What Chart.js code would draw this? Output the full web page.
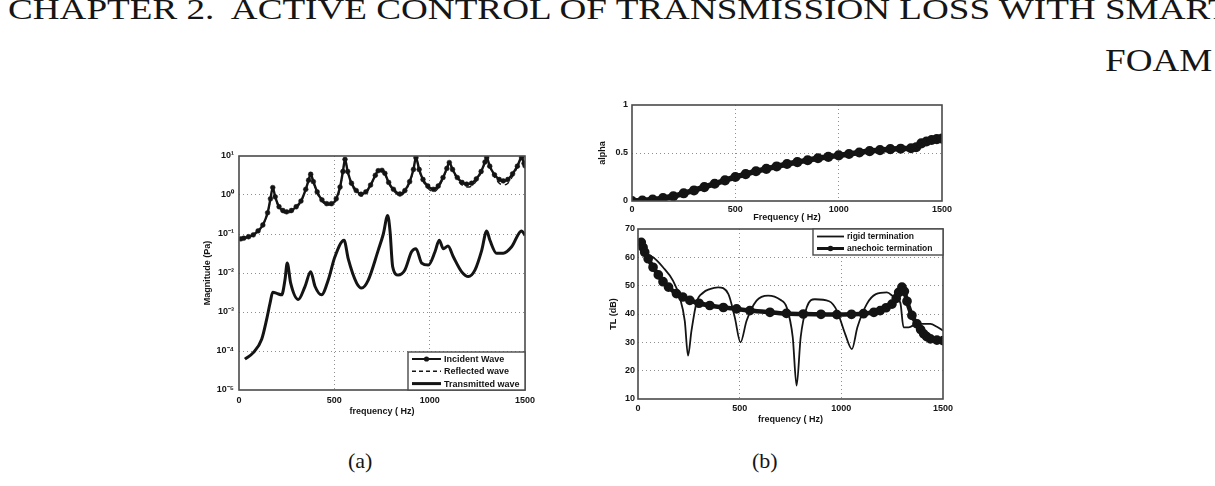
<!DOCTYPE html>
<html><head><meta charset="utf-8">
<script src="https://cdn.jsdelivr.net/npm/chart.js@4.4.1/dist/chart.umd.min.js"></script>
<style>
html,body{margin:0;padding:0;background:#fff;width:1215px;height:486px;overflow:hidden;position:relative;}
canvas{position:absolute;}
.t{position:absolute;font-family:'Liberation Serif','DejaVu Serif',serif;color:#151515;white-space:pre;line-height:1;transform-origin:0 0;}
</style></head><body>
<div id="h1" class="t" style="left:8px;top:-5px;font-size:28px;">CHAPTER 2.  ACTIVE CONTROL OF TRANSMISSION LOSS WITH SMART</div>
<div id="h2" class="t" style="left:1117px;top:46px;font-size:28px;">FOAM</div>
<div class="t" style="left:348px;top:450px;font-size:22px;">(a)</div>
<div class="t" style="left:752px;top:450px;font-size:22px;">(b)</div>
<canvas id="cA" width="360" height="290" style="left:190px;top:140px;"></canvas>
<canvas id="cB1" width="380" height="135" style="left:580px;top:90px;"></canvas>
<canvas id="cB2" width="380" height="220" style="left:580px;top:215px;"></canvas>
<script>
// ---------- data ----------
const freqTicks = [0, 500, 1000, 1500];
const magTickValues = [1e-5, 1e-4, 1e-3, 1e-2, 1e-1, 1, 10];
const magTickLabels = ['10\u207B\u2075', '10\u207B\u2074', '10\u207B\u00B3', '10\u207B\u00B2', '10\u207B\u00B9', '10\u2070', '10\u00B9'];
const alphaTicks = [0, 0.5, 1];
const tlTicks = [10, 20, 30, 40, 50, 60, 70];

const freqIncident = [10,25,50,75,100,125,150,165,177,190,210,230,250,275,300,325,350,365,376,390,410,435,460,485,510,530,545,556,570,590,615,640,665,690,715,730,750,765,785,810,844,870,895,915,928,945,965,990,1019,1045,1070,1090,1103,1120,1145,1170,1194,1220,1245,1270,1290,1299,1315,1340,1365,1386,1410,1435,1460,1482,1495,1500];
const incidentWave = [0.075,0.078,0.085,0.095,0.12,0.17,0.35,0.8,1.55,0.9,0.5,0.4,0.37,0.4,0.5,0.7,1.4,2.4,3.4,2.2,1.2,0.75,0.6,0.6,0.8,1.6,4.0,8.2,4.0,2.0,1.3,1.05,1.2,1.8,3.2,4.2,4.3,3.6,2.1,1.4,1.06,1.3,2.2,4.5,9.0,4.5,2.5,1.7,1.4,1.7,2.8,4.8,6.8,4.5,2.8,2.1,1.9,2.0,2.6,4.0,7.0,9.0,5.5,3.3,2.5,2.3,2.5,3.5,5.5,9.0,6.5,5.6];
const reflectedWave = [0.072,0.075,0.082,0.092,0.115,0.165,0.34,0.78,1.5,0.85,0.47,0.37,0.34,0.37,0.47,0.66,1.35,2.3,3.3,2.1,1.1,0.7,0.55,0.55,0.75,1.5,3.9,8.0,3.8,1.85,1.2,0.95,1.1,1.7,3.1,4.1,4.2,3.5,2.0,1.3,0.95,1.2,2.1,4.4,8.8,4.3,2.3,1.5,1.2,1.5,2.6,4.6,6.6,4.3,2.5,1.8,1.6,1.7,2.3,3.8,6.8,8.8,5.2,2.9,2.0,1.8,2.0,3.0,5.2,8.8,6.3,5.4];
const freqTransmitted = [31,75,119,145,163,177,198,224,241,253,271,311,346,376,399,433,468,503,551,573,617,643,678,730,757,780,792,806,835,870,905,928,958,993,1028,1050,1072,1096,1124,1168,1203,1238,1273,1299,1316,1351,1386,1430,1482,1500];
const transmittedWave = [6.2e-5,9.1e-5,2.0e-4,6.5e-4,1.7e-3,3.2e-3,3.0e-3,2.75e-3,6.6e-3,1.8e-2,5.5e-3,2.1e-3,4.5e-3,1.07e-2,4.5e-3,2.75e-3,6.6e-3,2.6e-2,6.9e-2,2.3e-2,5.5e-3,4.1e-3,6.6e-3,3.8e-2,0.10,0.30,0.12,1.45e-2,8.9e-3,1.2e-2,3.5e-2,4.2e-2,1.8e-2,1.6e-2,3.5e-2,6.9e-2,4.2e-2,4.9e-2,2.6e-2,1.07e-2,8.1e-3,1.2e-2,3.8e-2,0.12,6.9e-2,3.2e-2,3.2e-2,4.7e-2,0.12,9.3e-2];

const freqAlpha = [0,50,100,150,200,250,300,350,400,450,500,550,600,650,700,750,800,850,900,950,1000,1050,1100,1150,1200,1250,1300,1350,1375,1400,1425,1450,1475,1500];
const alphaValues = [0.0,0.005,0.015,0.03,0.05,0.08,0.11,0.145,0.18,0.215,0.25,0.28,0.31,0.335,0.36,0.385,0.405,0.425,0.445,0.46,0.475,0.49,0.505,0.52,0.53,0.54,0.545,0.55,0.56,0.6,0.62,0.635,0.645,0.65];

const freqRigid = [25,74,123,172,205,230,246,263,288,320,353,394,444,476,504,534,583,640,700,731,761,780,800,830,870,940,978,1019,1052,1079,1125,1170,1224,1260,1290,1306,1331,1372,1438,1470,1500];
const rigidTL = [61.5,60.0,56.5,51.8,46.0,37.6,25.3,34.1,44.1,47.5,48.8,49.4,47.1,38.8,30.0,37.6,44.7,46.5,45.0,42.4,31.8,14.7,31.8,42.4,45.2,44.5,41.2,32.9,27.6,35.3,43.5,47.0,47.6,46.0,44.0,35.3,35.3,36.5,36.5,35.5,34.1];
const freqAnechoic = [16,25,33,50,74,100,123,150,189,220,255,300,353,420,485,550,649,730,813,900,978,1050,1109,1160,1191,1220,1249,1270,1282,1298,1310,1323,1347,1372,1390,1405,1420,1438,1470,1500];
const anechoicTL = [65.3,63.5,61.8,59.5,56.5,53.8,51.4,49.5,47.2,46.0,44.8,43.8,43.0,42.3,41.8,41.2,40.6,40.2,40.0,39.9,39.8,39.9,40.1,40.6,41.2,42.2,43.5,45.5,47.6,49.5,48.0,44.5,39.5,36.5,34.5,33.0,32.0,31.2,30.8,30.6];

// ---------- header scaling ----------
(function(){
  const c = document.createElement('canvas').getContext('2d');
  c.font = "28px 'Liberation Serif'";
  const w = c.measureText('CHAPTER 2.  ACTIVE CONTROL OF TRANSMISSION LOSS WITH SMAR').width;
  const sx = 1207 / w;
  document.getElementById('h1').style.transform = 'scale(' + sx + ',1.05)';
  const wf = c.measureText('FOAM').width * sx;
  const h2 = document.getElementById('h2');
  h2.style.transform = 'scale(' + sx + ',1.1)';
  h2.style.left = (1212 - wf) + 'px';
})();

// ---------- helpers ----------
const ink = '#141414';
const gridColor = '#8f8f8f';
const sans = "'Liberation Sans', Arial, sans-serif";
const tickFont = {family: sans, size: 9, weight: 'bold'};
const titleFont = {family: sans, size: 9, weight: 'bold'};
const pts = (xs, ys) => xs.map((x, i) => ({x: x, y: ys[i]}));
const plain = v => String(v);
const innerGrid = ctx => {
  const n = ctx.scale.ticks.length;
  return (ctx.index === 0 || ctx.index === n - 1) ? 'rgba(0,0,0,0)' : gridColor;
};

const framePlugin = {
  id: 'frame',
  afterDatasetsDraw(chart) {
    const {ctx, chartArea: a} = chart;
    ctx.save();
    ctx.strokeStyle = '#4a4a4a';
    ctx.lineWidth = 1.6;
    ctx.strokeRect(a.left, a.top, a.right - a.left, a.bottom - a.top);
    ctx.restore();
  }
};

const boxLegendPlugin = {
  id: 'boxLegend',
  afterDraw(chart, args, o) {
    if (!o || !o.items) return;
    const {ctx, chartArea: a} = chart;
    const x = a.right - o.w;
    const y = o.anchor === 'bottom' ? a.bottom - o.h : a.top;
    ctx.save();
    ctx.fillStyle = '#fff';
    ctx.fillRect(x, y, o.w, o.h);
    ctx.strokeStyle = '#4a4a4a';
    ctx.lineWidth = 1.4;
    ctx.strokeRect(x, y, o.w, o.h);
    ctx.font = 'bold ' + o.fontSize + 'px ' + sans;
    ctx.textBaseline = 'middle';
    ctx.fillStyle = ink;
    o.items.forEach((it, i) => {
      const cy = y + o.first + i * o.row;
      ctx.strokeStyle = ink;
      ctx.lineWidth = it.width;
      ctx.setLineDash(it.dash || []);
      ctx.beginPath();
      ctx.moveTo(x + 4, cy);
      ctx.lineTo(x + o.sample, cy);
      ctx.stroke();
      ctx.setLineDash([]);
      if (it.marker) {
        ctx.beginPath();
        ctx.arc(x + 4 + (o.sample - 4) / 2, cy, it.marker, 0, Math.PI * 2);
        ctx.fill();
      }
      ctx.fillText(it.text, x + o.sample + 3, cy + 0.5);
    });
    ctx.restore();
  }
};

function xScale(title, tickPad, titlePad, height) {
  return {
    type: 'linear', min: 0, max: 1500,
    afterBuildTicks: s => { s.ticks = freqTicks.map(v => ({value: v})); },
    ticks: {font: tickFont, color: ink, padding: tickPad, maxRotation: 0, autoSkip: false, callback: plain},
    grid: {color: innerGrid, drawTicks: false, lineWidth: 1},
    border: {display: false, dash: [1, 3]},
    title: {display: true, text: title, font: titleFont, color: ink, padding: {top: 0, bottom: titlePad}},
    afterFit: s => { s.height = height; }
  };
}

// ---------- chart (a) ----------
new Chart(document.getElementById('cA'), {
  type: 'line',
  data: {datasets: [
    {label: 'Incident Wave', data: pts(freqIncident, incidentWave), borderColor: ink, borderWidth: 2.4,
     pointRadius: 2.4, pointBackgroundColor: ink, pointBorderColor: ink, pointBorderWidth: 0.5, cubicInterpolationMode: 'monotone'},
    {label: 'Reflected wave', data: pts(freqIncident, reflectedWave), borderColor: ink, borderWidth: 1.4,
     borderDash: [5, 4], pointRadius: 0, cubicInterpolationMode: 'monotone'},
    {label: 'Transmitted wave', data: pts(freqTransmitted, transmittedWave), borderColor: ink, borderWidth: 3,
     pointRadius: 0, cubicInterpolationMode: 'monotone'}
  ]},
  options: {
    responsive: false, animation: false, devicePixelRatio: 1,
    layout: {padding: {left: 0, top: 16, right: 25, bottom: 0}},
    plugins: {legend: {display: false}, tooltip: {enabled: false},
      boxLegend: {anchor: 'bottom', w: 117, h: 38, first: 7, row: 12.3, sample: 33, fontSize: 9, items: [
        {text: 'Incident Wave', width: 2, marker: 2.6},
        {text: 'Reflected wave', width: 1.4, dash: [4, 3]},
        {text: 'Transmitted wave', width: 3}
      ]}},
    scales: {
      x: xScale('frequency ( Hz)', 5, 13, 40),
      y: {
        type: 'logarithmic', min: 1e-5, max: 10,
        afterBuildTicks: s => { s.ticks = magTickValues.map(v => ({value: v})); },
        ticks: {font: tickFont, color: ink, padding: 5,
          callback: (v) => { const i = magTickValues.findIndex(t => Math.abs(Math.log10(t) - Math.log10(v)) < 1e-6); return i >= 0 ? magTickLabels[i] : ''; }},
        grid: {color: innerGrid, drawTicks: false, lineWidth: 1},
        border: {display: false, dash: [1, 3]},
        title: {display: true, text: 'Magnitude (Pa)', font: titleFont, color: ink, padding: {top: 12, bottom: 0}},
        afterFit: s => { s.width = 49; }
      }
    }
  },
  plugins: [framePlugin, boxLegendPlugin]
});

// ---------- chart (b) top ----------
new Chart(document.getElementById('cB1'), {
  type: 'line',
  data: {datasets: [
    {label: 'alpha', data: pts(freqAlpha, alphaValues), borderColor: ink, borderWidth: 5.5,
     pointRadius: 2.3, pointBackgroundColor: ink, pointBorderColor: ink, cubicInterpolationMode: 'monotone'}
  ]},
  options: {
    responsive: false, animation: false, devicePixelRatio: 1,
    layout: {padding: {left: 0, top: 15, right: 18, bottom: 0}},
    plugins: {legend: {display: false}, tooltip: {enabled: false}},
    scales: {
      x: xScale('Frequency ( Hz)', 3, 2, 24),
      y: {
        type: 'linear', min: 0, max: 1,
        afterBuildTicks: s => { s.ticks = alphaTicks.map(v => ({value: v})); },
        ticks: {font: tickFont, color: ink, padding: 4, callback: plain},
        grid: {color: innerGrid, drawTicks: false, lineWidth: 1},
        border: {display: false, dash: [1, 3]},
        title: {display: true, text: 'alpha', font: titleFont, color: ink, padding: {top: 17, bottom: 0}},
        afterFit: s => { s.width = 52; }
      }
    }
  },
  plugins: [framePlugin]
});

// ---------- chart (b) bottom ----------
new Chart(document.getElementById('cB2'), {
  type: 'line',
  data: {datasets: [
    {label: 'rigid termination', data: pts(freqRigid, rigidTL), borderColor: ink, borderWidth: 1.8,
     pointRadius: 0, cubicInterpolationMode: 'monotone'},
    {label: 'anechoic termination', data: pts(freqAnechoic, anechoicTL), borderColor: ink, borderWidth: 4.5,
     pointRadius: 2.6, pointBackgroundColor: ink, pointBorderColor: ink, cubicInterpolationMode: 'monotone'}
  ]},
  options: {
    responsive: false, animation: false, devicePixelRatio: 1,
    layout: {padding: {left: 0, top: 14, right: 17, bottom: 0}},
    plugins: {legend: {display: false}, tooltip: {enabled: false},
      boxLegend: {anchor: 'top', w: 130, h: 26, first: 7.5, row: 12, sample: 31, fontSize: 8.5, items: [
        {text: 'rigid termination', width: 1.8},
        {text: 'anechoic termination', width: 3, marker: 2.8}
      ]}},
    scales: {
      x: xScale('frequency ( Hz)', 4, 10, 36),
      y: {
        type: 'linear', min: 10, max: 70,
        afterBuildTicks: s => { s.ticks = tlTicks.map(v => ({value: v})); },
        ticks: {font: tickFont, color: ink, padding: 3, callback: plain},
        grid: {color: innerGrid, drawTicks: false, lineWidth: 1},
        border: {display: false, dash: [1, 3]},
        title: {display: true, text: 'TL (dB)', font: titleFont, color: ink, padding: {top: 28, bottom: 0}},
        afterFit: s => { s.width = 58; }
      }
    }
  },
  plugins: [framePlugin, boxLegendPlugin]
});
</script>
</body></html>
